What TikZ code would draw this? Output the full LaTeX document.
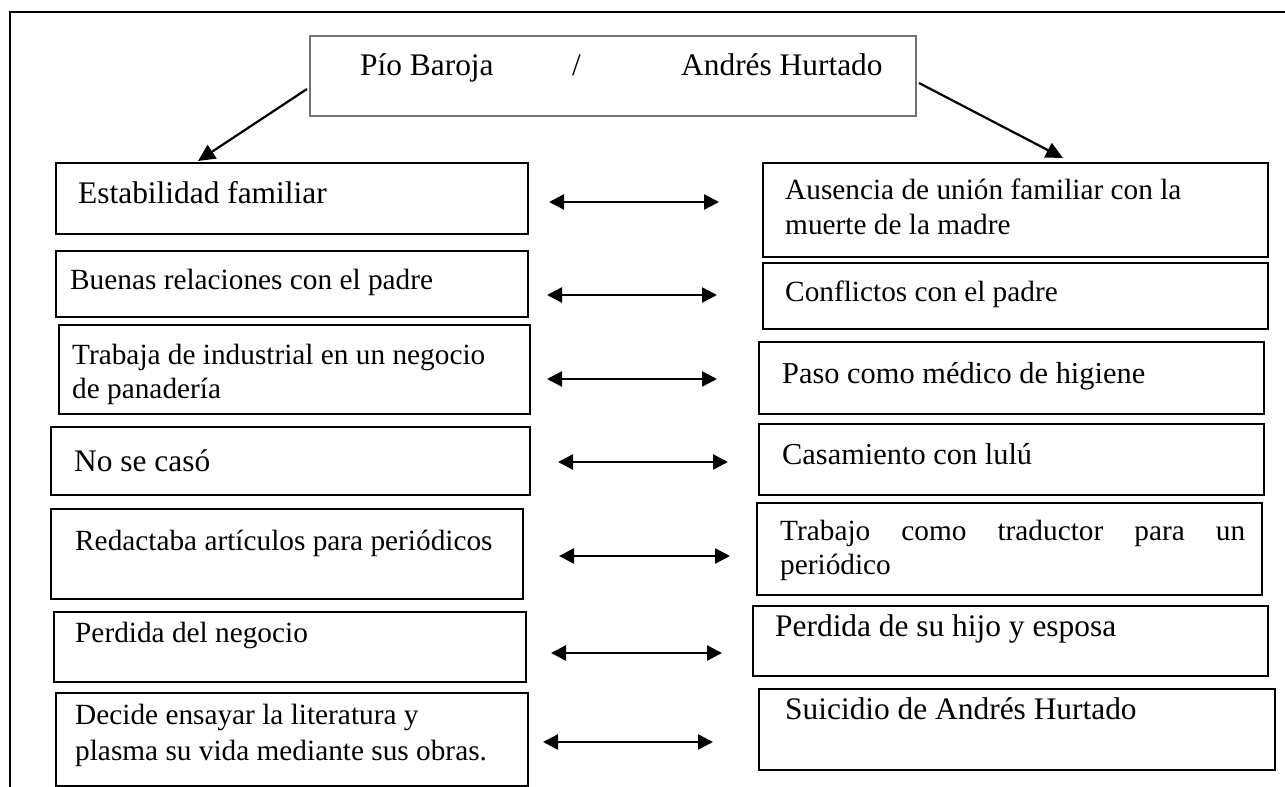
\documentclass[tikz,border=0pt]{standalone}
\usepackage{fontspec}
\setmainfont{Liberation Serif}
\usetikzlibrary{arrows.meta,fit}
\begin{document}
\begin{tikzpicture}[x=1pt,y=-1pt,
  box/.style={draw=black, line width=1.9pt, inner sep=0pt, rectangle},
  topbox/.style={draw=black!55, line width=1.2pt, inner sep=0pt, rectangle},
  big/.style={font=\fontsize{31.4}{36}\selectfont, inner sep=0pt, anchor=base west},
  mid/.style={font=\fontsize{30.4}{35}\selectfont, inner sep=0pt, anchor=base west},
  small/.style={font=\fontsize{29.3}{34}\selectfont, inner sep=0pt, anchor=base west},
  dbl/.style={{Triangle[length=15pt,width=15pt]}-{Triangle[length=15pt,width=15pt]}, line width=2.4pt},
  ptr/.style={-{Triangle[length=17pt,width=16pt]}, line width=2.2pt},
  frame/.style={line width=1.6pt}]
\useasboundingbox (0,0) rectangle (1285,787);
% frame
\coordinate (fTR) at (1285,12);
\coordinate (fTL) at (10,12);
\coordinate (fBL) at (10,787);
\draw[frame] (fTR) -- (fTL) -- (fBL);
% top box
\node[topbox, fit={(310,36) (916,116)}] (T) {};
\node[big] (t1) at (360,75) {Pío Baroja};
\node[big] (t2) at (572,75) {/};
\node[big] (t3) at (681,75) {Andrés Hurtado};
% left boxes
\node[box, fit={(56,163) (528,234)}] (L1) {};
\node[box, fit={(56,251) (528,317)}] (L2) {};
\node[box, fit={(59,325) (530,414)}] (L3) {};
\node[box, fit={(51,427) (530,495)}] (L4) {};
\node[box, fit={(51,509) (523,599)}] (L5) {};
\node[box, fit={(54,612) (526,682)}] (L6) {};
\node[box, fit={(56,693) (528,786)}] (L7) {};
% right boxes
\node[box, fit={(763,163) (1268,257)}] (R1) {};
\node[box, fit={(763,263) (1268,329)}] (R2) {};
\node[box, fit={(759,342) (1264,414)}] (R3) {};
\node[box, fit={(759,424) (1264,495)}] (R4) {};
\node[box, fit={(757,503) (1262,595)}] (R5) {};
\node[box, fit={(753,606) (1268,676)}] (R6) {};
\node[box, fit={(759,689) (1275,770)}] (R7) {};
% left texts
\node[big] (tL1) at (78,203) {Estabilidad familiar};
\node[small] (tL2) at (70,289) {Buenas relaciones con el padre};
\node[small] (tL3a) at (72,364) {Trabaja de industrial en un negocio};
\node[small] (tL3b) at (72,398) {de panadería};
\node[big] (tL4) at (74,471) {No se casó};
\node[small] (tL5) at (75,550) {Redactaba artículos para periódicos};
\node[small] (tL6) at (75,642) {Perdida del negocio};
\node[small] (tL7a) at (75,724) {Decide ensayar la literatura y};
\node[small] (tL7b) at (75,760) {plasma su vida mediante sus obras.};
% right texts
\node[small] (tR1a) at (785,199) {Ausencia de unión familiar con la};
\node[small] (tR1b) at (785,234) {muerte de la madre};
\node[small] (tR2) at (785,301) {Conflictos con el padre};
\node[mid] (tR3) at (782,383) {Paso como médico de higiene};
\node[mid] (tR4) at (782,464) {Casamiento con lulú};
\node[small] (tR5a) at (780,540) {\makebox[465pt][s]{Trabajo como traductor para un}};
\node[small] (tR5b) at (780,574) {periódico};
\node[big] (tR6) at (775,636) {Perdida de su hijo y esposa};
\node[big] (tR7) at (785,719) {Suicidio de Andrés Hurtado};
% top arrows
\coordinate (pa1) at (307,89);
\coordinate (pa2) at (198,161);
\coordinate (pb1) at (919,83);
\coordinate (pb2) at (1063,158);
\draw[ptr] (pa1) -- (pa2);
\draw[ptr] (pb1) -- (pb2);
% double arrows
\coordinate (d1a) at (549,202); \coordinate (d1b) at (719,202);
\coordinate (d2a) at (547,295); \coordinate (d2b) at (717,295);
\coordinate (d3a) at (547,379); \coordinate (d3b) at (717,379);
\coordinate (d4a) at (558,462); \coordinate (d4b) at (728,462);
\coordinate (d5a) at (559,556); \coordinate (d5b) at (730,556);
\coordinate (d6a) at (551,653); \coordinate (d6b) at (722,653);
\coordinate (d7a) at (543,742); \coordinate (d7b) at (713,742);
\foreach \i in {1,...,7} {\draw[dbl] (d\i a) -- (d\i b);}
\end{tikzpicture}
\end{document}
